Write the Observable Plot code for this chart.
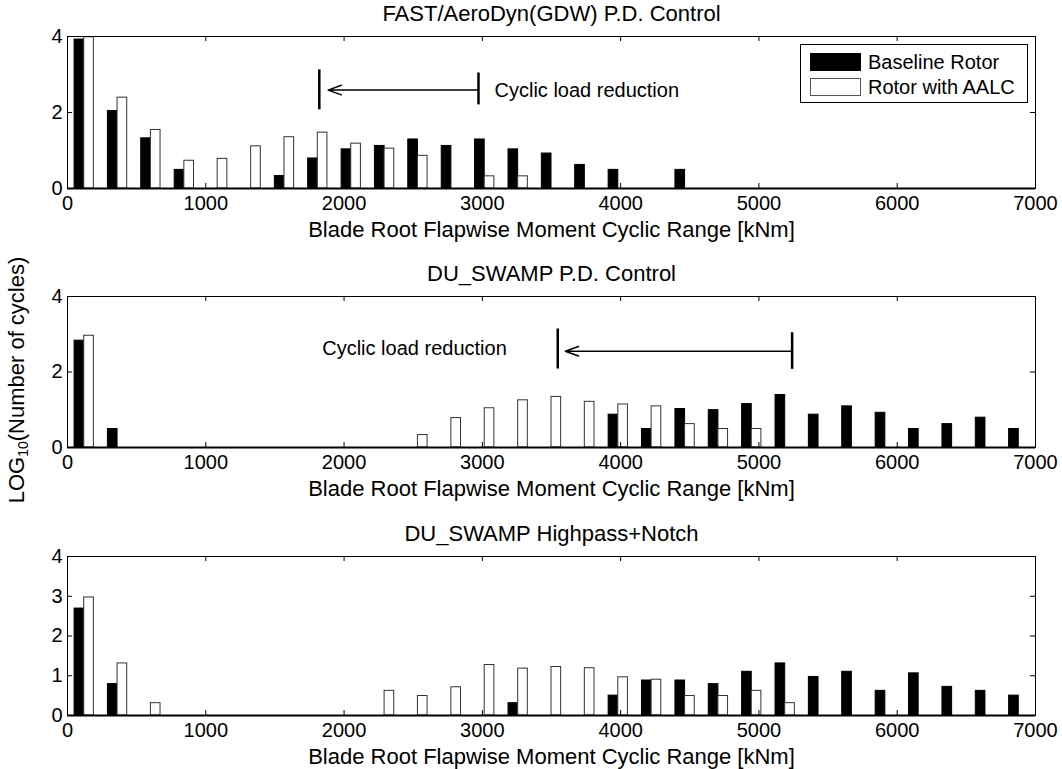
<!DOCTYPE html>
<html>
<head>
<meta charset="utf-8">
<script src="https://cdn.jsdelivr.net/npm/d3@7"></script>
<script src="https://cdn.jsdelivr.net/npm/@observablehq/plot@0.6"></script>
<style>
  body { margin: 0; background: #fff; }
  #wrap { position: relative; width: 1062px; height: 769px; background: #fff; font-family: 'Liberation Sans', Arial, sans-serif; overflow: hidden; }
  #wrap svg { position: absolute; left: 0; overflow: visible; }
  .legend { position: absolute; left: 800px; top: 44px; width: 226px; height: 57px; border: 1px solid #000; background: #fff; font-size: 20px; }
  .legend .row { position: absolute; left: 9px; height: 20px; display: flex; align-items: center; }
  .legend .sw { width: 51px; height: 18px; box-sizing: border-box; margin-right: 7px; }
  .ylab { position: absolute; left: 4px; top: 380px; font-size: 22px; white-space: nowrap; transform-origin: 0 0; transform: rotate(-90deg) translate(-50%, 0); }
  .ylab sub { font-size: 14px; vertical-align: -4px; line-height: 0; }
</style>
</head>
<body>
<div id="wrap"></div>
<script>
// ---- data ----
const binCenters = [121, 362, 603, 845, 1086, 1328, 1569, 1810, 2052, 2293, 2534, 2776, 3017, 3259, 3500, 3741, 3983, 4224, 4466, 4707, 4948, 5190, 5431, 5672, 5914, 6155, 6397, 6638, 6879];
const seriesNames = ["Baseline Rotor", "Rotor with AALC"];
const xTicks = [0, 1000, 2000, 3000, 4000, 5000, 6000, 7000];
const yTicksA = [0, 2, 4];
const yTicksB = [0, 1, 2, 3, 4];
const titles = ["FAST/AeroDyn(GDW) P.D. Control", "DU_SWAMP P.D. Control", "DU_SWAMP Highpass+Notch"];
const xLabel = "Blade Root Flapwise Moment Cyclic Range [kNm]";
const noteText = "Cyclic load reduction";

const p1Base = [3.92, 2.04, 1.32, 0.49, 0, 0, 0.33, 0.79, 1.03, 1.12, 1.29, 1.12, 1.29, 1.03, 0.92, 0.62, 0.49, 0, 0.49, 0, 0, 0, 0, 0, 0, 0, 0, 0, 0];
const p1AALC = [3.98, 2.39, 1.54, 0.73, 0.78, 1.11, 1.35, 1.47, 1.18, 1.05, 0.86, 0, 0.32, 0.32, 0, 0, 0, 0, 0, 0, 0, 0, 0, 0, 0, 0, 0, 0, 0];
const p2Base = [2.83, 0.49, 0, 0, 0, 0, 0, 0, 0, 0, 0, 0, 0, 0, 0, 0, 0.87, 0.49, 1.02, 0.99, 1.15, 1.39, 0.87, 1.09, 0.92, 0.49, 0.62, 0.79, 0.49];
const p2AALC = [2.96, 0, 0, 0, 0, 0, 0, 0, 0, 0, 0.33, 0.78, 1.04, 1.25, 1.34, 1.21, 1.14, 1.09, 0.62, 0.49, 0.49, 0, 0, 0, 0, 0, 0, 0, 0];
const p3Base = [2.69, 0.79, 0, 0, 0, 0, 0, 0, 0, 0, 0, 0, 0, 0.31, 0, 0, 0.50, 0.88, 0.88, 0.79, 1.10, 1.31, 0.97, 1.10, 0.62, 1.06, 0.72, 0.62, 0.50];
const p3AALC = [2.97, 1.31, 0.31, 0, 0, 0, 0, 0, 0, 0.62, 0.49, 0.71, 1.27, 1.18, 1.22, 1.19, 0.96, 0.90, 0.49, 0.49, 0.62, 0.31, 0, 0, 0, 0, 0, 0, 0];

// annotation: [arrow tail x, arrow head x, arrow y], bracket lines [x, y1, y2]
const note1Arrow = [2972, 1885, 2.59];
const note1Lines = [[1821, 2.07, 3.12], [2972, 2.2, 3.04]];
const note1Text = [3088, 2.57];
const note2Arrow = [5240, 3600, 2.55];
const note2Lines = [[3545, 2.08, 3.14], [5240, 2.07, 3.04]];
const note2Text = [1842, 2.62];

// ---- layout ----
const W = 1062, ML = 67, MR = 27;
const frameW = W - ML - MR;
const halfBar = 69.8;

function panel(cfg) {
  const rows = [];
  binCenters.forEach((c, i) => {
    if (cfg.base[i] > 0) rows.push({x1: c - halfBar, x2: c, v: cfg.base[i], s: seriesNames[0]});
    if (cfg.aalc[i] > 0) rows.push({x1: c, x2: c + halfBar, v: cfg.aalc[i], s: seriesNames[1]});
  });
  const fh = cfg.height - cfg.mt - cfg.mb;
  const marks = [
    Plot.rect(rows, {x1: "x1", x2: "x2", y1: 0, y2: "v",
      fill: d => d.s === seriesNames[0] ? "#000" : "#fff",
      stroke: d => d.s === seriesNames[0] ? "#000" : "#333", strokeWidth: 1}),
    Plot.frame({stroke: "#000", strokeWidth: 1}),
    Plot.ruleY([0], {stroke: "#000", strokeWidth: 2}),
    // inward ticks: bottom, top, left, right
    Plot.tickX(xTicks, {x: d => d, insetTop: fh - 5, stroke: "#000"}),
    Plot.tickX(xTicks, {x: d => d, insetBottom: fh - 5, stroke: "#000"}),
    Plot.tickY(cfg.yTicks, {y: d => d, insetRight: frameW - 5, stroke: "#000"}),
    Plot.tickY(cfg.yTicks, {y: d => d, insetLeft: frameW - 5, stroke: "#000"}),
    Plot.axisX({ticks: xTicks, tickSize: 0, tickPadding: 7, tickFormat: d => String(d), label: null, fontSize: 20}),
    Plot.axisY({ticks: cfg.yTicks, tickSize: 0, tickPadding: 5, tickFormat: d => String(d), label: null, fontSize: 20}),
    Plot.text([cfg.title], {text: d => d, frameAnchor: "top", lineAnchor: "bottom", dy: -16, fontSize: 22}),
    Plot.text([xLabel], {text: d => d, frameAnchor: "bottom", lineAnchor: "middle", dy: 41, fontSize: 22})
  ];
  if (cfg.arrow) {
    const [xa, xb, ya] = cfg.arrow;
    marks.push(Plot.arrow([0], {x1: xa, x2: xb, y1: ya, y2: ya, stroke: "#000", strokeWidth: 1.5, headLength: 14, headAngle: 40}));
    marks.push(Plot.ruleX(cfg.lines, {x: d => d[0], y1: d => d[1], y2: d => d[2], stroke: "#000", strokeWidth: 2.5}));
    marks.push(Plot.text([noteText], {x: cfg.textPos[0], y: cfg.textPos[1], text: d => d, textAnchor: "start", fontSize: 20}));
  }
  const svg = Plot.plot({
    width: W, height: cfg.height,
    marginLeft: ML, marginRight: MR, marginTop: cfg.mt, marginBottom: cfg.mb,
    x: {domain: [0, 7000]},
    y: {domain: [0, 4]},
    style: {fontFamily: "'Liberation Sans', Arial, sans-serif", fontSize: "20px", color: "#000", background: "transparent"},
    marks
  });
  svg.style.top = cfg.top + "px";
  return svg;
}

const wrap = document.getElementById("wrap");
wrap.appendChild(panel({top: 0, height: 250, mt: 36, mb: 62, base: p1Base, aalc: p1AALC, yTicks: yTicksA, title: titles[0],
  arrow: note1Arrow, lines: note1Lines, textPos: note1Text}));
wrap.appendChild(panel({top: 250, height: 260, mt: 46, mb: 63, base: p2Base, aalc: p2AALC, yTicks: yTicksA, title: titles[1],
  arrow: note2Arrow, lines: note2Lines, textPos: note2Text}));
wrap.appendChild(panel({top: 510, height: 259, mt: 46, mb: 54, base: p3Base, aalc: p3AALC, yTicks: yTicksB, title: titles[2]}));

// legend
const leg = document.createElement("div");
leg.className = "legend";
leg.innerHTML =
  `<div class="row" style="top:7px"><div class="sw" style="background:#000;border:1px solid #000"></div>${seriesNames[0]}</div>` +
  `<div class="row" style="top:32px"><div class="sw" style="background:#fff;border:1px solid #555"></div>${seriesNames[1]}</div>`;
wrap.appendChild(leg);

// y label
const yl = document.createElement("div");
yl.className = "ylab";
yl.innerHTML = "LOG<sub>10</sub>(Number of cycles)";
wrap.appendChild(yl);
</script>
</body>
</html>
